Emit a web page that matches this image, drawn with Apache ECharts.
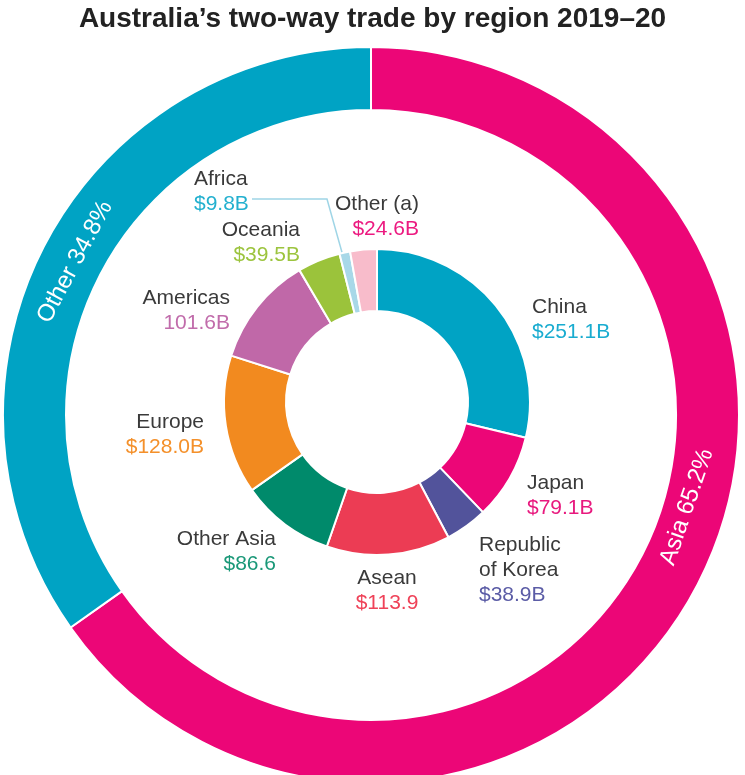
<!DOCTYPE html>
<html>
<head>
<meta charset="utf-8">
<script src="https://cdn.jsdelivr.net/npm/echarts@6/dist/echarts.min.js"></script>
<style>html,body{margin:0;background:#fff;}</style>
</head>
<body>
<div id="main" style="width:745px;height:775px;"></div>
<script>
// inner ring: trade by region ($ billion)
var regionNames = ['China', 'Japan', 'Republic\nof Korea', 'Asean', 'Other Asia', 'Europe', 'Americas', 'Oceania', 'Africa', 'Other (a)'];
var regionValues = [251.1, 79.1, 38.9, 113.9, 86.6, 128.0, 101.6, 39.5, 9.8, 24.6];
var regionValueText = ['$251.1B', '$79.1B', '$38.9B', '$113.9', '$86.6', '$128.0B', '101.6B', '$39.5B', '$9.8B', '$24.6B'];
// outer ring: share of total
var groupNames = ['Asia', 'Other'];
var groupShares = [65.2, 34.8];

var sliceColors = ['#00a3c4', '#ec0677', '#52539b', '#ec3c54', '#008a6b', '#f28a1f', '#c068a8', '#9bc33b', '#a8d8e8', '#f8bccb'];
var valueColors = ['#19acd0', '#e8197e', '#5b5ca6', '#ef4258', '#1a9878', '#f4902a', '#c16cab', '#9cc43e', '#23b0cf', '#ec1a80'];
var groupColors = ['#ec0677', '#00a3c4'];

// where each inner label sits: [x, y, align, leader line]
var labelSpots = [
    [532, 320, 'left'],
    [527, 496, 'left'],
    [479, 570, 'left'],
    [387, 591, 'center'],
    [276, 552, 'right'],
    [204, 435, 'right'],
    [230, 311, 'right'],
    [300, 243, 'right'],
    [194, 192, 'left', [[252, 199], [327, 199], [343, 256]]],
    [419, 217, 'right']
];
var groupSpots = [[687, 507, 71], [75, 262, 62]];

var myChart = echarts.init(document.getElementById('main'));

var rich = {n: {color: '#3a3a3a', fontSize: 21, lineHeight: 25, fontFamily: 'Liberation Sans'}};
for (var i = 0; i < valueColors.length; i++) {
    rich['v' + i] = {color: valueColors[i], fontSize: 21, lineHeight: 25, fontFamily: 'Liberation Sans'};
}

var innerData = regionNames.map(function (name, i) {
    var item = {name: name, value: regionValues[i], itemStyle: {color: sliceColors[i]}};
    if (name === 'Africa') {
        item.labelLine = {show: true, lineStyle: {color: '#9fd5e6', width: 1.5}};
    }
    return item;
});

var outerData = groupNames.map(function (name, i) {
    return {name: name, value: groupShares[i], itemStyle: {color: groupColors[i]}};
});

var option = {
    animation: false,
    backgroundColor: '#fff',
    title: {
        text: 'Australia’s two-way trade by region 2019–20',
        left: 'center',
        top: 0,
        textStyle: {fontSize: 28, fontWeight: 'bold', color: '#222', fontFamily: 'Liberation Sans'}
    },
    series: [
        {
            type: 'pie',
            center: [371, 415],
            radius: [305, 368],
            startAngle: 90,
            clockwise: true,
            silent: true,
            avoidLabelOverlap: false,
            itemStyle: {borderColor: '#fff', borderWidth: 2},
            label: {
                position: 'inside',
                color: '#fff',
                fontSize: 24,
                fontWeight: 500,
                fontFamily: 'Liberation Sans',
                formatter: function (p) { return p.name + ' ' + p.value.toFixed(1) + '%'; }
            },
            labelLine: {show: false},
            labelLayout: function (p) {
                var s = groupSpots[p.dataIndex];
                return {x: s[0], y: s[1], rotate: s[2], align: 'center', verticalAlign: 'middle'};
            },
            data: outerData
        },
        {
            type: 'pie',
            center: [377, 402],
            radius: [91, 153],
            startAngle: 90,
            clockwise: true,
            silent: true,
            avoidLabelOverlap: false,
            itemStyle: {borderColor: '#fff', borderWidth: 2},
            label: {
                position: 'outside',
                formatter: function (p) {
                    return '{n|' + p.name + '}\n{v' + p.dataIndex + '|' + regionValueText[p.dataIndex] + '}';
                },
                rich: rich
            },
            labelLine: {show: false},
            labelLayout: function (p) {
                var s = labelSpots[p.dataIndex];
                var out = {x: s[0], y: s[1], align: s[2], verticalAlign: 'middle'};
                if (s[3]) out.labelLinePoints = s[3];
                return out;
            },
            data: innerData
        }
    ]
};
myChart.setOption(option);
</script>
</body>
</html>
